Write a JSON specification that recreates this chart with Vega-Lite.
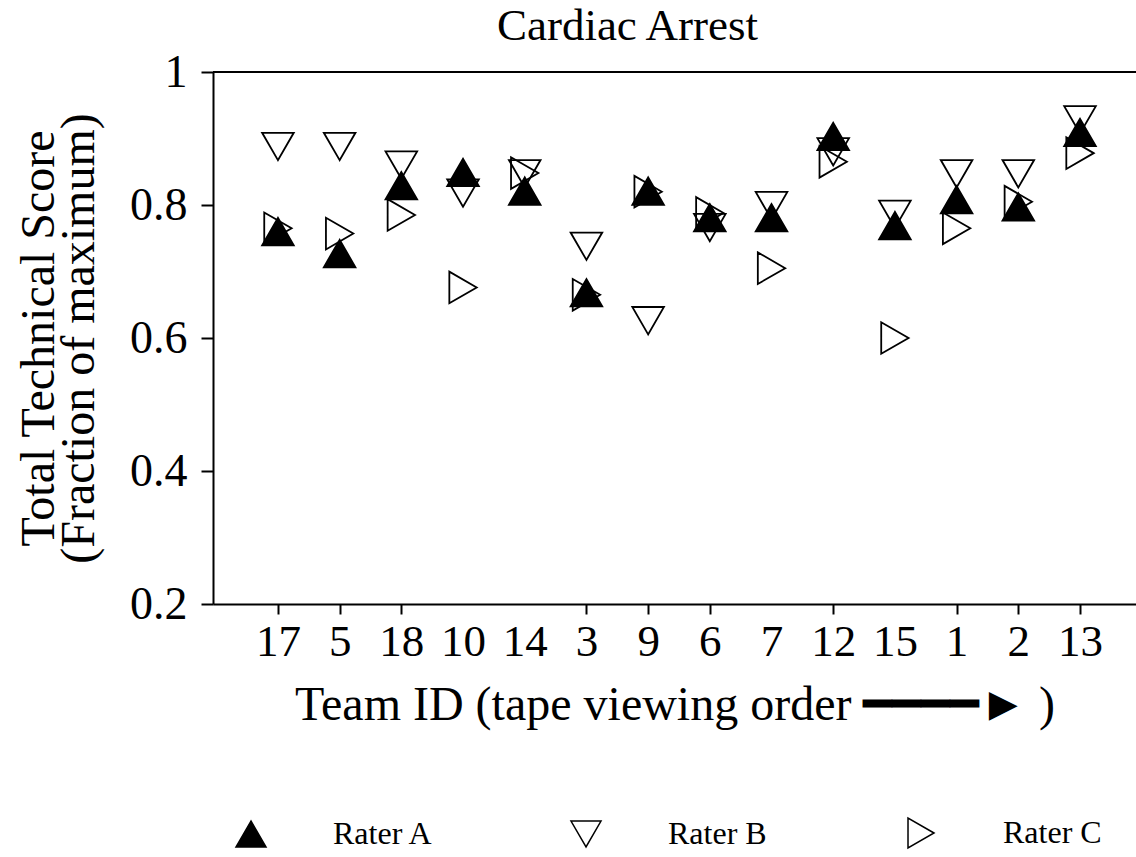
{
  "$schema": "https://vega.github.io/schema/vega-lite/v6.json",
  "autosize": "none",
  "width": 923,
  "height": 532,
  "padding": {"left": 213, "top": 72, "right": 0, "bottom": 253},
  "background": "white",
  "config": {
    "view": {"stroke": null},
    "font": "Liberation Serif"
  },
  "title": {
    "text": "Cardiac Arrest",
    "font": "Liberation Serif",
    "fontSize": 45,
    "fontWeight": "normal",
    "anchor": "middle",
    "frame": "group",
    "dx": -47,
    "dy": 45,
    "baseline": "bottom",
    "offset": 0,
    "color": "black"
  },
  "data": {
    "values": [
      {"team": "17", "rater": "Rater A", "score": 0.760},
      {"team": "5", "rater": "Rater A", "score": 0.727},
      {"team": "18", "rater": "Rater A", "score": 0.829},
      {"team": "10", "rater": "Rater A", "score": 0.849},
      {"team": "14", "rater": "Rater A", "score": 0.821},
      {"team": "3", "rater": "Rater A", "score": 0.668},
      {"team": "9", "rater": "Rater A", "score": 0.821},
      {"team": "6", "rater": "Rater A", "score": 0.781},
      {"team": "7", "rater": "Rater A", "score": 0.781},
      {"team": "12", "rater": "Rater A", "score": 0.903},
      {"team": "15", "rater": "Rater A", "score": 0.769},
      {"team": "1", "rater": "Rater A", "score": 0.808},
      {"team": "2", "rater": "Rater A", "score": 0.797},
      {"team": "13", "rater": "Rater A", "score": 0.909},
      {"team": "17", "rater": "Rater B", "score": 0.888},
      {"team": "5", "rater": "Rater B", "score": 0.888},
      {"team": "18", "rater": "Rater B", "score": 0.860},
      {"team": "10", "rater": "Rater B", "score": 0.818},
      {"team": "14", "rater": "Rater B", "score": 0.847},
      {"team": "3", "rater": "Rater B", "score": 0.738},
      {"team": "9", "rater": "Rater B", "score": 0.626},
      {"team": "6", "rater": "Rater B", "score": 0.766},
      {"team": "7", "rater": "Rater B", "score": 0.799},
      {"team": "12", "rater": "Rater B", "score": 0.880},
      {"team": "15", "rater": "Rater B", "score": 0.786},
      {"team": "1", "rater": "Rater B", "score": 0.847},
      {"team": "2", "rater": "Rater B", "score": 0.847},
      {"team": "13", "rater": "Rater B", "score": 0.928},
      {"team": "17", "rater": "Rater C", "score": 0.765},
      {"team": "5", "rater": "Rater C", "score": 0.757},
      {"team": "18", "rater": "Rater C", "score": 0.785},
      {"team": "10", "rater": "Rater C", "score": 0.676},
      {"team": "14", "rater": "Rater C", "score": 0.848},
      {"team": "3", "rater": "Rater C", "score": 0.665},
      {"team": "9", "rater": "Rater C", "score": 0.820},
      {"team": "6", "rater": "Rater C", "score": 0.788},
      {"team": "7", "rater": "Rater C", "score": 0.705},
      {"team": "12", "rater": "Rater C", "score": 0.865},
      {"team": "15", "rater": "Rater C", "score": 0.600},
      {"team": "1", "rater": "Rater C", "score": 0.765},
      {"team": "2", "rater": "Rater C", "score": 0.805},
      {"team": "13", "rater": "Rater C", "score": 0.878}
    ]
  },
  "layer": [
    {
      "mark": {"type": "rule", "color": "black", "strokeWidth": 2},
      "encoding": {"y": {"datum": 1, "type": "quantitative"}}
    },
    {
      "mark": {"type": "point", "filled": true, "strokeWidth": 1.8, "size": 1000, "opacity": 1},
      "encoding": {
        "x": {
          "field": "team",
          "type": "nominal",
          "sort": ["17", "5", "18", "10", "14", "3", "9", "6", "7", "12", "15", "1", "2", "13"],
          "scale": {"type": "point", "padding": 0.98, "align": 0.537},
          "axis": {
            "title": "Team ID (tape viewing order ━━━━► )",
            "titleFont": "Liberation Serif",
            "titleFontSize": 48,
            "titleFontWeight": "normal",
            "titleColor": "black",
            "titlePadding": 17,
            "labelFont": "Liberation Serif",
            "labelFontSize": 45,
            "labelColor": "black",
            "labelAngle": 0,
            "labelPadding": 5,
            "labelBaseline": "top",
            "domainColor": "black",
            "domainWidth": 2,
            "tickColor": "black",
            "tickWidth": 2,
            "tickSize": 10,
            "tickOpacity": {
              "condition": {"test": "indexof(['17','5','18','3','9','6','12','1','2','13'], datum.value) >= 0", "value": 1},
              "value": 0
            },
            "grid": false
          }
        },
        "y": {
          "field": "score",
          "type": "quantitative",
          "scale": {"domain": [0.2, 1], "nice": false, "zero": false},
          "axis": {
            "values": [0.2, 0.4, 0.6, 0.8, 1],
            "format": ".1~f",
            "title": ["Total Technical Score", "(Fraction of maximum)"],
            "titleFont": "Liberation Serif",
            "titleFontSize": 48,
            "titleFontWeight": "normal",
            "titleColor": "black",
            "titleLineHeight": 40,
            "titlePadding": 26,
            "labelFont": "Liberation Serif",
            "labelFontSize": 46,
            "labelColor": "black",
            "labelPadding": 14,
            "domainColor": "black",
            "domainWidth": 2,
            "tickColor": "black",
            "tickWidth": 2,
            "tickSize": 12,
            "grid": false
          }
        },
        "shape": {
          "field": "rater",
          "type": "nominal",
          "scale": {"domain": ["Rater A", "Rater B", "Rater C"], "range": ["triangle-up", "triangle-down", "triangle-right"]},
          "legend": {
            "title": null,
            "orient": "none",
            "legendX": 22,
            "legendY": 745,
            "direction": "horizontal",
            "columns": 3,
            "gridAlign": "all",
            "columnPadding": 134,
            "symbolSize": 900,
            "symbolStrokeWidth": 1.5,
            "labelFont": "Liberation Serif",
            "labelFontSize": 32,
            "labelColor": "black",
            "labelOffset": 66,
            "labelLimit": 300
          }
        },
        "fill": {
          "field": "rater",
          "type": "nominal",
          "scale": {"domain": ["Rater A", "Rater B", "Rater C"], "range": ["black", "transparent", "transparent"]},
          "legend": {
            "title": null,
            "orient": "none",
            "legendX": 22,
            "legendY": 745,
            "direction": "horizontal",
            "columns": 3,
            "gridAlign": "all",
            "columnPadding": 134,
            "symbolSize": 900,
            "symbolStrokeWidth": 1.5,
            "labelFont": "Liberation Serif",
            "labelFontSize": 32,
            "labelColor": "black",
            "labelOffset": 66,
            "labelLimit": 300
          }
        },
        "stroke": {
          "field": "rater",
          "type": "nominal",
          "scale": {"domain": ["Rater A", "Rater B", "Rater C"], "range": ["black", "black", "black"]},
          "legend": {
            "title": null,
            "orient": "none",
            "legendX": 22,
            "legendY": 745,
            "direction": "horizontal",
            "columns": 3,
            "gridAlign": "all",
            "columnPadding": 134,
            "symbolSize": 900,
            "symbolStrokeWidth": 1.5,
            "labelFont": "Liberation Serif",
            "labelFontSize": 32,
            "labelColor": "black",
            "labelOffset": 66,
            "labelLimit": 300
          }
        }
      }
    }
  ]
}
